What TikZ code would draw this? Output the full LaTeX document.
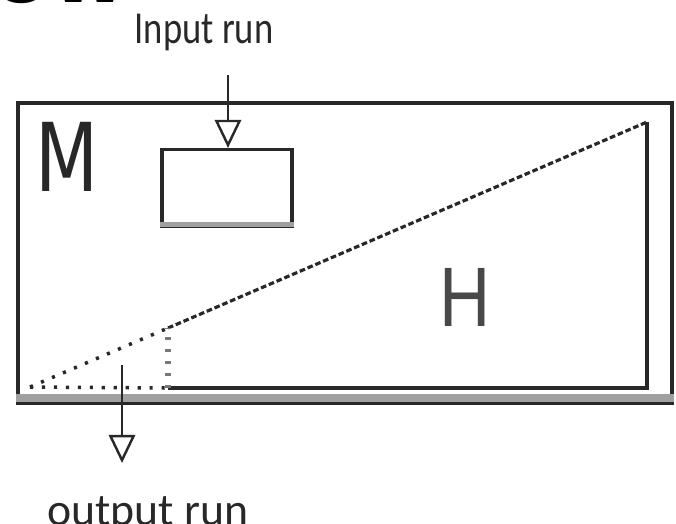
\documentclass[tikz,border=0pt]{standalone}
\usepackage{fontspec}
\setmainfont{Carlito}
\newfontfamily\letterfont{Liberation Sans}
\newfontfamily\titlefont{DejaVu Sans}
\usetikzlibrary{arrows.meta, positioning}
\definecolor{DG}{RGB}{40,40,40}
\definecolor{MG}{RGB}{120,120,120}

\begin{document}
\begin{tikzpicture}[x=0.01cm, y=-0.01cm,
  frm/.style={draw=DG, line width=1.1pt, minimum width=6.54cm, minimum height=3.0cm, inner sep=0pt},
  bx/.style={draw=DG, line width=0.9pt, minimum width=1.3cm, minimum height=0.77cm, inner sep=0pt},
  arr/.style={-{Triangle[open, length=8pt, width=7.5pt]}, line width=0.7pt, draw=DG},
  side/.style={draw=DG, line width=1pt},
  dotln/.style={draw=DG, line width=1pt, dash pattern=on 0.9pt off 2.5pt},
  dashln/.style={draw=DG, line width=0.9pt, dash pattern=on 1.6pt off 0.8pt},
  lbl/.style={font=\fontsize{13}{13}\selectfont, text=DG, inner sep=0pt}
]
\useasboundingbox (0,0) rectangle (676,523);

\node[font=\titlefont\bfseries\fontsize{24}{24}\selectfont, anchor=base west, inner sep=0pt] (head) at (-8,2) {ow};

\node[frm] (mill) at (345,253) {};
\draw[line width=2pt, draw=MG!70] ([yshift=2pt]mill.south west) -- ([yshift=2pt]mill.south east);
\node[bx] (box) at (227,188) {};
\draw[line width=1.6pt, draw=MG!70] ([yshift=1pt]box.south west) -- ([yshift=1pt]box.south east);

\node[font=\titlefont\fontsize{27}{27}\selectfont, text=DG, inner sep=0pt] (mlbl) at (67,157) {\scalebox{0.77}[1]{M}};
\node[font=\letterfont\fontsize{24}{24}\selectfont, text=DG!85, inner sep=0pt] (hlbl) at (465,297) {\scalebox{0.84}[1]{H}};

\node[lbl, anchor=base] (inlbl) at (204,43) {\scalebox{0.8}[1]{Input run}};
\node[lbl, anchor=base] (outlbl) at (148,525) {output run};

\coordinate (inpt) at (228,75);
\draw[arr] (inpt) -- (box.north -| inpt);

\coordinate (apex) at (30,387);
\coordinate (knee) at (168,328);
\coordinate (foot) at (168,388);
\coordinate (peak) at (647,122);
\coordinate (corner) at (647,388);
\draw[dotln] (apex) -- (knee);
\draw[dashln] (knee) -- (peak);
\draw[side] (peak) -- (corner) -- (foot);
\draw[dotln] (apex) -- (foot);
\draw[dotln, draw=MG, line width=1.6pt] (foot) -- (knee);

\coordinate (outtop) at (122,365);
\coordinate (outend) at (122,463);
\draw[arr] (outtop) -- (outend);
\end{tikzpicture}
\end{document}
